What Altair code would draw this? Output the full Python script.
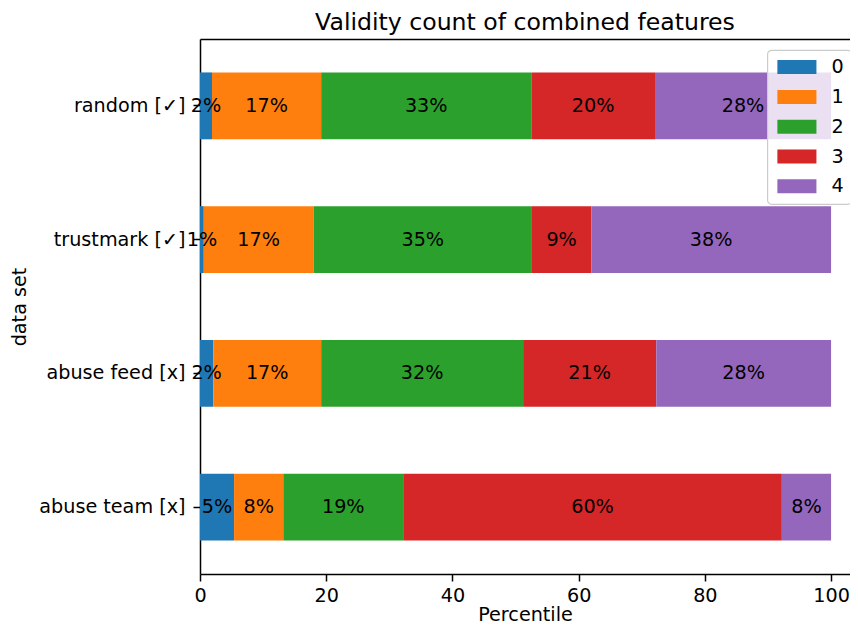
import altair as alt
import pandas as pd

datasets = ["random [✓]", "trustmark [✓]", "abuse feed [x]", "abuse team [x]"]
levels = ["0", "1", "2", "3", "4"]
v0 = [1.9, 0.6, 2.1, 5.4]
v1 = [17.3, 17.4, 17.1, 7.8]
v2 = [33.3, 34.6, 32.0, 19.0]
v3 = [19.6, 9.4, 21.1, 60.0]
v4 = [27.9, 38.0, 27.7, 7.8]
colors = ["#1f77b4", "#ff7f0e", "#2ca02c", "#d62728", "#9467bd"]
x_ticks = [0, 20, 40, 60, 80, 100]

series = [v0, v1, v2, v3, v4]
rows = []
for li, vals in enumerate(series):
    for di, ds in enumerate(datasets):
        rows.append({"dataset": ds, "level": levels[li], "lvl": li, "value": vals[di]})
df = pd.DataFrame(rows)

FONT = "DejaVu Sans"
FS = 19.2

base = alt.Chart(df).transform_stack(
    stack="value", groupby=["dataset"], sort=[alt.SortField("lvl", order="ascending")], as_=["x0", "x1"]
).transform_calculate(
    mid="(datum.x0 + datum.x1) / 2",
    label="format(datum.value, '.0f') + '%'"
)

y_enc = alt.Y(
    "dataset:N",
    sort=datasets,
    scale=alt.Scale(paddingInner=0.5, paddingOuter=0.25),
    axis=alt.Axis(
        title="data set", domain=True, domainColor="black", domainWidth=1.5,
        ticks=True, tickSize=7, tickWidth=1.5, tickColor="black",
        labelFontSize=FS, labelPadding=8, labelColor="black", labelFont=FONT,
        titleFontSize=FS, titleFontWeight="normal", titleColor="black", titleFont=FONT, titlePadding=9,
        grid=False,
    ),
)

x_scale = alt.Scale(domain=[0, 103.0], nice=False, zero=True)

bars = base.mark_bar().encode(
    x=alt.X(
        "x0:Q",
        scale=x_scale,
        axis=alt.Axis(
            title="Percentile", values=x_ticks, domain=True, domainColor="black", domainWidth=1.5,
            ticks=True, tickSize=7, tickWidth=1.5,
            tickColor="black", labelFontSize=FS, labelPadding=5, labelColor="black", labelFont=FONT,
            labelFlush=False, titleFontSize=FS, titleFontWeight="normal", titleColor="black",
            titleFont=FONT, titlePadding=0, grid=False,
        ),
    ),
    x2="x1:Q",
    y=y_enc,
    color=alt.Color(
        "level:N",
        scale=alt.Scale(domain=levels, range=colors),
        legend=alt.Legend(
            title=None, orient="none", legendX=567.3, legendY=11,
            fillColor="rgba(255,255,255,0.8)", strokeColor="#cccccc",
            cornerRadius=4, padding=7.5,
            symbolType="M-2.79,-1L2.79,-1L2.79,1L-2.79,1Z", symbolSize=196,
            symbolOffset=12.5,
            symbolStrokeWidth=0, symbolOpacity=1,
            labelFontSize=FS, labelFont=FONT, labelColor="black", labelOffset=25,
            rowPadding=9.8,
        ),
    ),
)

texts = base.mark_text(
    fontSize=FS, font=FONT, color="black", align="center", baseline="middle"
).encode(
    x=alt.X(
        "mid:Q",
        scale=x_scale,
        axis=alt.Axis(
            orient="top", labels=False, ticks=False, domain=True, domainColor="black",
            domainWidth=1.5, title=None, grid=False,
        ),
    ),
    y=alt.Y("dataset:N", sort=datasets),
    text="label:N",
)

chart = alt.layer(bars, texts).resolve_axis(x="independent").properties(
    width=650,
    height=535,
    title=alt.TitleParams(
        "Validity count of combined features", fontSize=23.6, font=FONT, fontWeight="normal",
        color="black", anchor="middle", frame="group", offset=4,
    ),
    autosize=alt.AutoSizeParams(type="none"),
    padding={"left": 192, "top": 31, "right": 0, "bottom": 51},
).configure(
    font=FONT,
    view=alt.ViewConfig(strokeWidth=0),
    legend=alt.LegendConfig(strokeWidth=1.2),
)

chart.save("out.html", embed_options={"renderer": "svg", "actions": False})
